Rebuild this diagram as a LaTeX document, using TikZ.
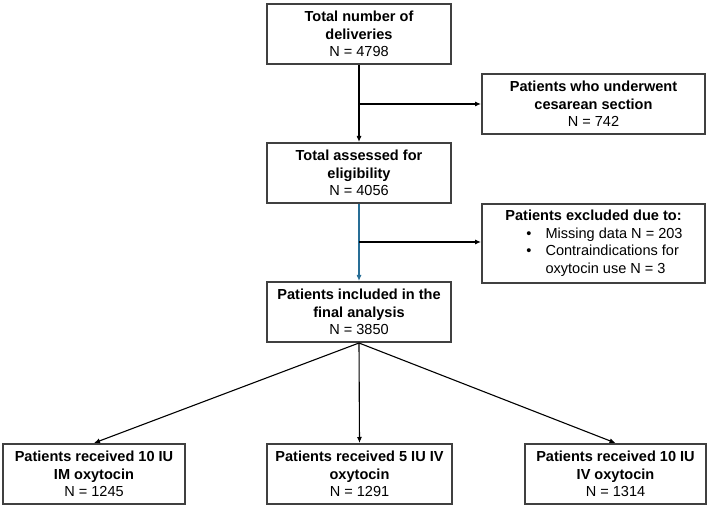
\documentclass[tikz,border=0pt]{standalone}
\usepackage{fontspec}
\setmainfont{Liberation Sans}
\usetikzlibrary{arrows.meta}
\definecolor{flowblue}{RGB}{40,110,150}

\begin{document}
\begin{tikzpicture}[x=1bp,y=-1bp,box/.style={draw=black!75,line width=2bp,fill=white,minimum width=184bp,minimum height=60bp,inner sep=2bp,align=center,font=\fontsize{14.6}{17.5}\selectfont},a/.style={-{Latex[length=6bp,width=5bp]},draw=black,line width=1.1bp}]
\useasboundingbox (0,0) rectangle (709,508);
\node[box] (total) at (359,34) {\textbf{Total number of}\\\textbf{deliveries}\\N = 4798};
\node[box,minimum width=223bp] (cesar) at (593.5,104) {\textbf{Patients who underwent}\\\textbf{cesarean section}\\N = 742};
\node[box] (assess) at (359,173) {\textbf{Total assessed for}\\\textbf{eligibility}\\N = 4056};
\node[box,minimum width=223bp,minimum height=79bp] (excl) at (593.5,243.5) {%
\begin{tabular}{@{\hspace{22bp}}c@{\hspace{14bp}}l@{}}
\multicolumn{2}{@{}c@{}}{\textbf{Patients excluded due to:}}\\
\textbullet & Missing data N = 203\\
\textbullet & Contraindications for\\
 & oxytocin use N = 3
\end{tabular}};
\node[box] (incl) at (359,312) {\textbf{Patients included in the}\\\textbf{final analysis}\\N = 3850};
\node[box,minimum width=182bp] (im) at (94,474) {\textbf{Patients received 10 IU}\\\textbf{IM oxytocin}\\N = 1245};
\node[box,minimum width=185bp] (ivfive) at (359.5,474) {\textbf{Patients received 5 IU IV}\\\textbf{oxytocin}\\N = 1291};
\node[box,minimum width=181bp] (ivten) at (615.5,474) {\textbf{Patients received 10 IU}\\\textbf{IV oxytocin}\\N = 1314};
% main path
\draw[a] (total)--(assess);
\coordinate (b1) at (total.south |- cesar.west);
\draw[a] (b1)--(cesar.west);
\draw[a,draw=flowblue] (assess)--(incl);
\coordinate (b2) at (359,242);
\draw[a] (b2)--(excl.west |- b2);
% split into groups
\draw[a] (incl.south)--(im.north);
\draw[a] (incl.south)--(ivfive.north);
\draw[a] (incl.south)--(ivten.north);
\end{tikzpicture}
\end{document}
